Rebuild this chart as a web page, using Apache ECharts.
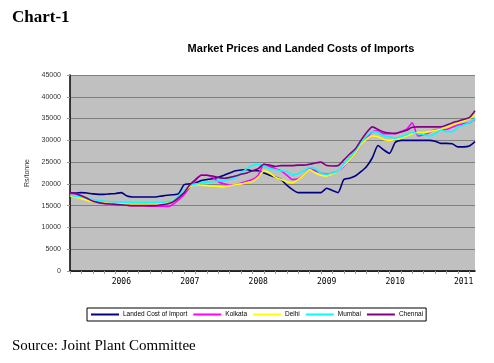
<!DOCTYPE html>
<html><head><meta charset="utf-8">
<script src="https://cdn.jsdelivr.net/npm/echarts@6/dist/echarts.min.js"></script>
<style>html,body{margin:0;padding:0;background:#fff}#c{width:494px;height:363px}</style>
</head><body><div id="c"></div>
<script>
// Monthly categories Apr 2005 - Mar 2011
const months = [];
for (let y = 2005, m = 4; months.length < 72; ) {
  months.push(y + '-' + String(m).padStart(2, '0'));
  m++; if (m > 12) { m = 1; y++; }
}
const yTicks = [0,5000,10000,15000,20000,25000,30000,35000,40000,45000];
const landed = [17900,17900,18000,17900,17700,17600,17600,17700,17800,18000,17200,17000,17000,17000,17000,17000,17200,17400,17500,17700,19800,20000,20200,20800,21000,21200,21500,22000,22500,23000,23200,23300,23000,23000,22500,22000,21500,21000,19700,18700,18000,18000,18000,18000,18000,19000,18500,18000,21000,21300,21800,22800,24000,26000,28800,27800,27000,29500,30000,30000,30000,30000,30000,30000,29800,29300,29300,29200,28500,28500,28700,29700];
const kolkata = [17800,17700,17200,16600,16000,15700,15500,15400,15300,15200,15100,15000,15000,15000,14900,14900,14900,14800,15200,16300,17500,19200,20800,22000,22000,21500,20500,20000,19800,19800,20200,20600,21000,22000,24500,24000,23500,23000,22000,21000,21200,22000,23500,23000,22500,22300,22500,23000,24000,25500,27000,29000,30500,32000,32200,31500,31500,31500,32000,32500,34000,31000,31300,31800,32500,32500,32500,33000,33500,33800,34000,34800];
const delhi = [17300,17000,16600,16200,15900,15700,15600,15500,15400,15400,15300,15300,15300,15300,15400,15400,15500,15700,16200,17000,18200,19300,19800,19700,19600,19500,19400,19300,19600,19800,20000,20300,20600,21500,23000,22500,21500,21000,20500,20300,21000,22000,23300,22500,22000,21800,22300,23000,24200,25500,27000,29000,30300,31000,30800,30200,30000,30200,30500,31000,31500,31800,31800,32000,32300,32500,33000,33500,34000,34500,35000,35800];
const mumbai = [17400,17200,17000,16700,16400,16200,16000,15900,15900,15800,15800,15700,15700,15700,15700,15700,15800,15900,16100,17200,18600,19600,20000,20200,20400,20500,20700,20800,21000,21400,22500,23500,24200,24500,24000,23500,23300,23000,22800,22000,22300,23000,23800,23500,22500,22200,22500,23000,24500,26000,27500,29500,31000,32000,31800,31000,30800,30500,30800,31300,31800,31500,31300,31000,31500,32300,32000,32000,33000,33500,34000,35000];
const chennai = [18000,17800,17300,16700,16000,15700,15500,15400,15300,15200,15100,15000,15000,15000,15000,15000,15200,15400,15800,16800,18000,19800,21000,22000,22000,21800,21500,21300,21500,21800,22200,22500,23000,23500,24500,24300,24000,24200,24200,24200,24300,24300,24500,24800,25000,24200,24100,24200,25500,26800,28000,30000,31800,33100,32500,31900,31700,31600,31900,32300,33000,33100,33100,33100,33100,33100,33500,34000,34400,34800,35200,36800];

const names = ['Landed Cost of Import','Kolkata','Delhi','Mumbai','Chennai'];
const colors = ['#000080','#ff00ff','#ffff00','#00ffff','#800080'];
const datas = [landed, kolkata, delhi, mumbai, chennai];

const chart = echarts.init(document.getElementById('c'));
chart.setOption({
  animation: false,
  backgroundColor: '#fff',
  title: [
    {text: 'Chart-1', left: 7, top: 4, textStyle: {fontFamily: 'Liberation Serif', fontWeight: 'bold', fontSize: 17, color: '#000'}},
    {text: 'Market Prices and Landed Costs of Imports', left: 296, textAlign: 'center', top: 38, textStyle: {fontFamily: 'Liberation Sans', fontWeight: 'bold', fontSize: 11, color: '#000'}},
    {text: 'Source: Joint Plant Committee', left: 7, top: 334, textStyle: {fontFamily: 'Liberation Serif', fontWeight: 'normal', fontSize: 15, color: '#000'}}
  ],
  legend: {
    data: names, left: 87, top: 308,
    itemWidth: 28, itemHeight: 2, itemGap: 6, icon: 'rect',
    borderColor: '#000', borderWidth: 1, padding: [3, 3, 3, 4],
    textStyle: {fontFamily: 'Liberation Sans', fontSize: 6.5, color: '#000', padding: [0, 0, 0, -1]}
  },
  grid: {left: 70, right: 19, top: 75, height: 196, backgroundColor: '#c0c0c0', show: true, borderWidth: 0},
  xAxis: {
    type: 'category', data: months, boundaryGap: false,
    axisLine: {lineStyle: {color: '#000', width: 1.5}},
    axisTick: {show: true, interval: (i) => i % 2 === 0, length: 3, lineStyle: {color: '#999'}},
    axisLabel: {interval: (i, v) => v.endsWith('-01'), formatter: (v) => v.slice(0, 4), fontFamily: 'DejaVu Sans Mono', fontSize: 8, color: '#000', margin: 7},
    splitLine: {show: false}
  },
  yAxis: {
    type: 'value', min: 0, max: 45000, interval: 5000,
    name: 'Rs/tonne', nameLocation: 'middle', nameGap: 33, nameRotate: 90,
    nameTextStyle: {fontFamily: 'Liberation Sans', fontSize: 7, color: '#333'},
    axisLine: {show: true, lineStyle: {color: '#000', width: 1.5}},
    axisTick: {show: true, length: 3, lineStyle: {color: '#999'}},
    axisLabel: {formatter: (v) => String(v), fontFamily: 'Liberation Sans', fontSize: 7, color: '#333', margin: 9},
    splitLine: {lineStyle: {color: '#808080', width: 1}}
  },
  series: datas.map((d, k) => ({
    name: names[k], type: 'line', data: d, showSymbol: false, smooth: 0.2,
    lineStyle: {color: colors[k], width: 1.6}, itemStyle: {color: colors[k]}
  }))
});
</script></body></html>
